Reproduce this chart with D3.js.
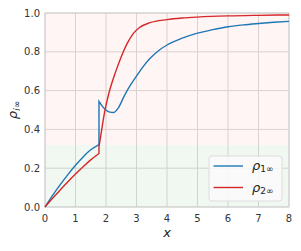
<!DOCTYPE html>
<meta charset="utf-8">
<body>
<script src="https://d3js.org/d3.v7.min.js"></script>
<style>
    html, body {
        margin: 0;
        background: #fff;
    }
    text {
        font-family: "DejaVu Sans", sans-serif;
    }
</style>
<script>
// values; the jump sits at x = 1.77
var xTicks = [0, 1, 2, 3, 4, 5, 6, 7, 8],
    yTicks = [0, 0.2, 0.4, 0.6, 0.8, 1.0],
    band = 0.32;

var rho1Before = [[0, 0], [0.25, 0.06], [0.5, 0.115], [0.75, 0.167], [1, 0.215],
    [1.25, 0.258], [1.5, 0.295], [1.77, 0.322]];
var rho1After = [[1.77, 0.544], [1.9, 0.515], [2.0, 0.5], [2.1, 0.49], [2.24, 0.487],
    [2.4, 0.51], [2.6, 0.573], [2.8, 0.628], [3.0, 0.675], [3.2, 0.72], [3.44, 0.765],
    [3.7, 0.803], [4.0, 0.835], [4.5, 0.87], [5, 0.896], [5.5, 0.914], [6, 0.929],
    [6.5, 0.939], [7, 0.946], [7.5, 0.952], [8, 0.957]];

var rho2Before = [[0, 0], [0.25, 0.045], [0.5, 0.088], [0.75, 0.13], [1, 0.17],
    [1.25, 0.208], [1.5, 0.243], [1.77, 0.276]];
var rho2After = [[1.77, 0.31], [1.85, 0.39], [1.95, 0.485], [2.1, 0.59], [2.3, 0.69],
    [2.5, 0.775], [2.7, 0.845], [2.9, 0.895], [3.1, 0.925], [3.44, 0.95], [4, 0.966],
    [4.5, 0.974], [5, 0.979], [6, 0.985], [7, 0.988], [8, 0.99]];

var series = [
    {name: "1", color: "#1f77b4", parts: [rho1Before, rho1After]},
    {name: "2", color: "#d62728", parts: [rho2Before, rho2After]}
];

var width = 301, height = 251,
    margin = {top: 13, right: 12, bottom: 44, left: 45};

var svg = d3.select("body").append("svg")
    .attr("width", width)
    .attr("height", height);

var x = d3.scaleLinear().domain([0, 8]).range([margin.left, width - margin.right]),
    y = d3.scaleLinear().domain([0, 1]).range([height - margin.bottom, margin.top]);

var g = svg.append("g");

g.append("rect")
    .attr("x", x(0)).attr("y", y(1))
    .attr("width", x(8) - x(0)).attr("height", y(0) - y(1))
    .attr("fill", "#fff");

// grid
g.selectAll(".gx").data(xTicks).enter().append("line")
    .attr("x1", d => x(d)).attr("x2", d => x(d))
    .attr("y1", y(0)).attr("y2", y(1))
    .attr("stroke", "#dadada").attr("stroke-width", 1);
g.selectAll(".gy").data(yTicks).enter().append("line")
    .attr("y1", d => y(d)).attr("y2", d => y(d))
    .attr("x1", x(0)).attr("x2", x(8))
    .attr("stroke", "#dadada").attr("stroke-width", 1);

// shaded bands
g.append("rect")
    .attr("x", x(0)).attr("y", y(1))
    .attr("width", x(8) - x(0)).attr("height", y(band) - y(1))
    .attr("fill", "#ff0000").attr("fill-opacity", 0.04);
g.append("rect")
    .attr("x", x(0)).attr("y", y(band))
    .attr("width", x(8) - x(0)).attr("height", y(0) - y(band))
    .attr("fill", "#008000").attr("fill-opacity", 0.055);

// border
g.append("rect")
    .attr("x", x(0)).attr("y", y(1))
    .attr("width", x(8) - x(0)).attr("height", y(0) - y(1))
    .attr("fill", "none").attr("stroke", "#d0d0d0").attr("stroke-width", 1);

var line = d3.line()
    .x(d => x(d[0]))
    .y(d => y(d[1]))
    .curve(d3.curveMonotoneX);

g.selectAll(".series").data(series).enter().append("path")
    .attr("fill", "none")
    .attr("stroke", d => d.color)
    .attr("stroke-width", 1.4)
    .attr("d", d => line(d.parts[0]) + line(d.parts[1]).replace(/^M/, "L"));

// tick labels
g.selectAll(".tx").data(xTicks).enter().append("text")
    .attr("x", d => x(d)).attr("y", y(0) + 15)
    .attr("text-anchor", "middle")
    .attr("font-size", 10).attr("fill", "#333")
    .text(d => d);
g.selectAll(".ty").data(yTicks).enter().append("text")
    .attr("x", x(0) - 5).attr("y", d => y(d) + 3.5)
    .attr("text-anchor", "end")
    .attr("font-size", 10).attr("fill", "#333")
    .text(d => d.toFixed(1));

// axis labels
g.append("text")
    .attr("x", (x(0) + x(8)) / 2).attr("y", y(0) + 30)
    .attr("text-anchor", "middle")
    .attr("font-size", 13).attr("font-style", "italic").attr("fill", "#222")
    .text("x");

var yl = g.append("text")
    .attr("transform", "translate(17," + ((y(0) + y(1)) / 2) + ") rotate(-90)")
    .attr("text-anchor", "middle")
    .attr("fill", "#222");
yl.append("tspan").attr("font-size", 13).attr("font-style", "italic").text("ρ");
yl.append("tspan").attr("font-size", 9).attr("dy", 3).attr("font-style", "italic").text("i∞");

// legend
var lg = g.append("g").attr("transform", "translate(209,156)");
lg.append("rect")
    .attr("width", 73).attr("height", 45).attr("rx", 3)
    .attr("fill", "#fafafa").attr("fill-opacity", 0.85)
    .attr("stroke", "#dcdcdc");
var item = lg.selectAll(".item").data(series).enter().append("g")
    .attr("transform", (d, i) => "translate(0," + (10 + i * 21.5) + ")");
item.append("line")
    .attr("x1", 4.5).attr("x2", 34)
    .attr("stroke", d => d.color).attr("stroke-width", 1.4);
var lt = item.append("text")
    .attr("x", 43).attr("y", 4)
    .attr("fill", "#222");
lt.append("tspan").attr("font-size", 13).attr("font-style", "italic").text("ρ");
lt.append("tspan").attr("font-size", 9).attr("dy", 2).text(d => d.name + "∞");
</script>
